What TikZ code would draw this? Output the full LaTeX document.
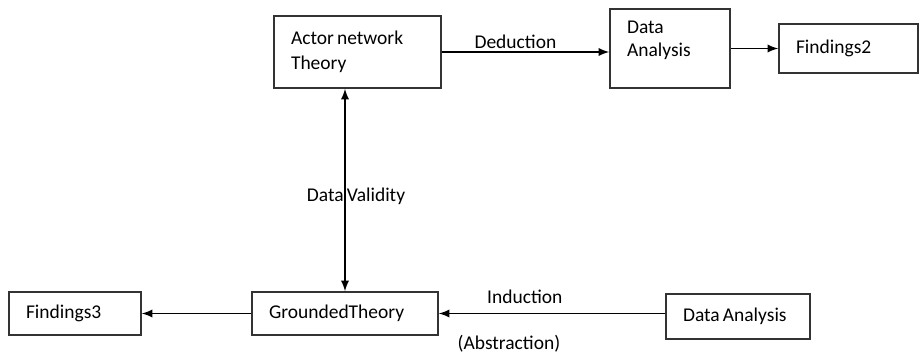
\documentclass[tikz,border=0pt]{standalone}
\usepackage{fontspec}
\setmainfont{Carlito}[WordSpace=0.7]
\usetikzlibrary{positioning, arrows}

\begin{document}
\begin{tikzpicture}[x=0.5pt, y=-0.5pt, >=latex, line width=0.85pt,
    font=\fontsize{9.75}{12.5}\selectfont,
    box/.style={draw=black!80, line width=0.75pt, rectangle, align=flush left, inner xsep=8.5pt, inner ysep=2pt},
    lbl/.style={inner sep=1pt}]

   \useasboundingbox (0,0) rectangle (920,353);

   \node[box, text width=66.5pt, minimum height=36pt] (ant) at (357.5,52) {Actor network\\Theory};
   \node[box, text width=43pt, minimum height=39.5pt] (da1) at (670,48.5) {Data\\[-1pt]Analysis\rule[-9.5pt]{0pt}{9.5pt}};
   \node[box, text width=52.5pt, minimum height=24.5pt] (f2) at (848.5,48.5) {Findings2};
   \node[box, text width=76pt, minimum height=21.5pt] (gt) at (345,313.5) {GroundedTheory};
   \node[box, text width=49pt, minimum height=21.5pt] (f3) at (75,313.5) {Findings3};
   \node[box, text width=55pt, minimum height=22.5pt] (da2) at (738,316.5) {Data Analysis};

    \path[->]
    (ant.east) edge node[lbl, above=0.5pt, pos=0.44] {Deduction} (ant.east -| da1.west)
    (da1.east) edge (f2.west)
    (gt.west) edge (f3.east)
    (da2.west |- gt) edge node[lbl, above=3.5pt, pos=0.62] {Induction}
                          node[lbl, below=9.5pt, pos=0.69] {(Abstraction)} (gt.east);
    \path[<->]
    (gt.north) edge node[lbl, pos=0.47, xshift=5.5pt] {Data Validity} (gt.north |- ant.south);
\end{tikzpicture}
\end{document}
